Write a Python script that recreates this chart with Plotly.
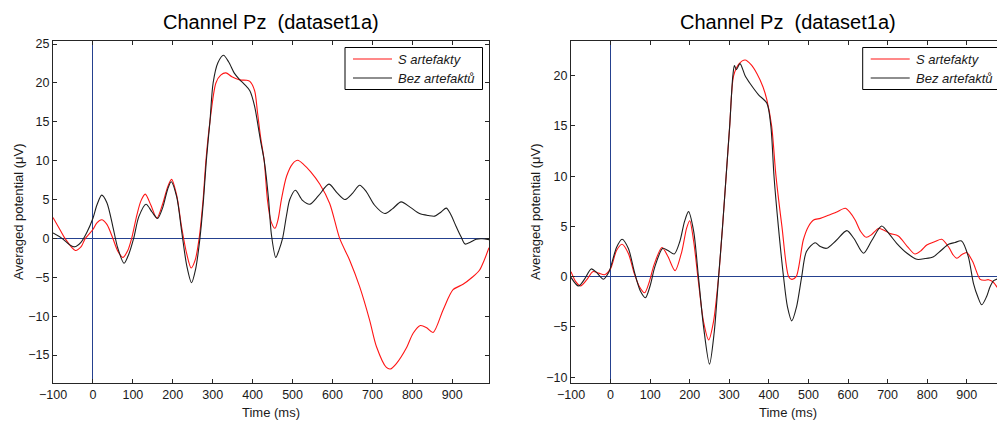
import plotly.graph_objects as go

# ---------------- data ----------------
TITLE = "Channel Pz  (dataset1a)"
X_LABEL = "Time (ms)"
Y_LABEL = "Averaged potential (μV)"
SERIES_NAMES = ["S artefakty", "Bez artefaktů"]

x_ticks = [-100, 0, 100, 200, 300, 400, 500, 600, 700, 800, 900]
left_y_ticks = [-15, -10, -5, 0, 5, 10, 15, 20, 25]
right_y_ticks = [-10, -5, 0, 5, 10, 15, 20]

# left panel, red (S artefakty)
left_red_t = [-100, -80, -70, -44, -30, -19, 0, 10, 22, 35, 50, 62, 75, 87, 97,
              110, 120, 131, 145, 160, 175, 187, 197, 210, 222, 235, 246, 256,
              266, 276, 283, 293, 308, 320, 333, 348, 368, 385, 393, 405, 412,
              420, 429, 437, 446, 456, 464, 472, 485, 500, 513, 528, 545, 568,
              593, 618, 643, 668, 693, 710, 735, 745, 760, 785, 802, 820, 836,
              852, 877, 902, 927, 950, 968, 980, 992]
left_red_v = [2.7, 0.9, 0.0, -1.55, -1.1, 0.0, 1.15, 2.0, 2.4, 1.8, 0.0, -1.6,
              -2.45, -1.6, 0.0, 3.0, 4.8, 5.7, 4.3, 2.6, 4.5, 6.6, 7.6, 5.5,
              1.5, -2.0, -3.8, -2.8, 0.0, 5.0, 10.0, 15.0, 20.0, 21.0, 21.3,
              20.8, 20.4, 20.35, 20.2, 19.0, 16.3, 13.0, 10.0, 5.0, 2.2, 1.3,
              2.5, 5.0, 8.0, 9.6, 10.05, 9.5, 8.6, 7.0, 4.5, 0.0, -2.8, -6.2,
              -10.5, -13.9, -16.6, -16.8, -16.1, -14.1, -12.2, -11.2, -11.5,
              -12.1, -9.2, -6.6, -5.9, -5.0, -4.1, -2.8, -1.2]

# left panel, black (Bez artefaktů)
left_black_t = [-100, -80, -57, -46, -30, -15, 0, 10, 22, 35, 50, 62, 78, 90,
                102, 115, 133, 148, 162, 175, 187, 196, 210, 222, 235, 247, 257,
                268, 277, 284, 293, 301, 313, 327, 340, 355, 368, 380, 393, 405,
                412, 420, 429, 440, 447, 458, 466, 475, 485, 493, 507, 525, 543,
                565, 591, 611, 631, 650, 668, 685, 705, 731, 750, 772, 795, 818,
                840, 856, 872, 885, 895, 910, 922, 932, 945, 960, 975, 992]
left_black_v = [0.7, 0.1, -0.86, -1.08, -0.5, 0.8, 2.6, 4.3, 5.57, 4.6, 1.5,
                -1.2, -3.2, -2.0, 0.0, 2.8, 4.4, 3.4, 2.57, 4.0, 6.3, 7.3, 5.3,
                1.0, -3.5, -5.7, -4.0, 0.0, 5.0, 10.0, 15.0, 20.0, 22.6, 23.56,
                22.7, 21.2, 20.4, 19.8, 19.0, 17.0, 15.0, 12.5, 10.0, 5.0, 0.5,
                -2.45, -1.5, 0.0, 3.0, 5.0, 6.2, 4.9, 4.4, 5.5, 6.98, 5.9, 5.0,
                5.8, 6.85, 6.0, 4.3, 3.2, 3.8, 4.7, 4.0, 3.2, 2.95, 2.87, 3.4,
                3.9, 3.2, 1.5, 0.2, -0.73, -0.5, -0.1, -0.05, -0.15]

# right panel, red (S artefakty)
right_red_t = [-100, -88, -76, -60, -45, -30, -15, 0, 15, 29, 45, 60, 73, 86,
               98, 110, 130, 145, 163, 180, 192, 200, 210, 222, 235, 248, 260,
               273, 283, 292, 301, 311, 325, 340, 355, 370, 385, 395, 407, 418,
               433, 450, 458, 469, 487, 500, 513, 530, 546, 570, 593, 605, 618,
               632, 646, 660, 677, 692, 706, 727, 750, 769, 785, 799, 820, 837,
               855, 865, 875, 888, 900, 915, 934, 945, 955, 966, 977]
right_red_v = [0.5, -0.5, -0.93, -0.3, 0.5, 0.35, 0.2, 0.8, 2.6, 3.22, 2.3,
               0.3, -1.0, -1.6, -0.5, 1.2, 2.9, 2.0, 0.6, 2.5, 4.8, 5.57, 3.5,
               -0.5, -4.5, -6.3, -4.5, 0.0, 5.0, 10.0, 15.0, 20.0, 21.2, 21.56,
               21.1, 20.2, 18.9, 17.6, 15.0, 10.0, 5.0, 0.0, -0.27, 0.0, 3.65,
               5.0, 5.64, 5.8, 6.04, 6.4, 6.8, 6.4, 5.64, 4.5, 3.92, 4.2, 4.8,
               4.6, 4.3, 4.05, 3.0, 2.26, 2.6, 3.15, 3.5, 3.72, 2.9, 2.2, 1.83,
               2.2, 2.4, 1.5, -0.27, -0.35, -0.3, -0.5, -1.06]

# right panel, black (Bez artefaktů)
right_black_t = [-100, -81, -65, -49, -35, -18, -5, 0, 15, 29, 45, 60, 75, 88,
                 100, 112, 132, 145, 161, 175, 187, 197, 210, 222, 235, 250, 262,
                 273, 283, 292, 301, 309, 313, 318, 327, 340, 353, 374, 395, 405,
                 413, 424, 437, 447, 458, 470, 483, 495, 517, 530, 546, 570, 597,
                 615, 639, 660, 685, 705, 723, 750, 774, 795, 816, 835, 854, 870,
                 887, 904, 917, 928, 938, 950, 959, 968, 977]
right_black_v = [-0.07, -0.93, -0.2, 0.77, 0.4, -0.26, 0.4, 0.9, 2.9, 3.72,
                 2.8, 0.5, -1.4, -2.09, -0.9, 1.0, 2.82, 2.6, 2.26, 3.5, 5.5,
                 6.47, 4.5, 0.0, -5.0, -8.7, -5.5, 0.0, 5.0, 10.0, 15.0, 20.0,
                 21.0, 20.6, 21.2, 20.0, 19.2, 18.1, 17.25, 15.0, 10.0, 5.0, 0.0,
                 -3.0, -4.4, -3.0, 0.0, 2.5, 3.38, 3.0, 2.82, 3.6, 4.58, 3.8,
                 2.33, 3.6, 5.04, 4.2, 3.32, 2.3, 1.73, 1.8, 1.99, 2.6, 3.22,
                 3.4, 3.55, 2.0, -0.66, -2.0, -2.8, -2.0, -1.0, -0.4, -0.23]

# ---------------- layout helpers ----------------
W, H = 997, 422
FONT = "Liberation Sans, Arial, sans-serif"
RED = "#ff1414"
BLACK = "#1e1e1e"
BLUE = "#25418f"
AXIS = "#262626"


def fx(p):
    return p / W


def fy(p):
    return 1 - p / H


fig = go.Figure()

panels = [
    dict(xa="x", ya="y", data=[(left_red_t, left_red_v), (left_black_t, left_black_v)]),
    dict(xa="x2", ya="y2", data=[(right_red_t, right_red_v), (right_black_t, right_black_v)]),
]
colors = [RED, BLACK]
for p in panels:
    for (t, v), c, name in zip(p["data"], colors, SERIES_NAMES):
        fig.add_trace(go.Scatter(
            x=t, y=v, mode="lines", name=name, showlegend=False,
            line=dict(color=c, width=1.1, shape="spline", smoothing=0.8),
            xaxis=p["xa"], yaxis=p["ya"], hoverinfo="skip"))

axis_common = dict(
    showgrid=False, zeroline=True, zerolinecolor=BLUE, zerolinewidth=1,
    showline=True, linecolor=AXIS, linewidth=1, mirror="ticks",
    ticks="inside", ticklen=4, tickcolor=AXIS, tickwidth=1,
    tickfont=dict(family=FONT, size=12.5, color="#1a1a1a"),
    automargin=False, fixedrange=True,
)

fig.update_layout(
    width=W, height=H,
    margin=dict(l=0, r=0, t=0, b=0),
    paper_bgcolor="white", plot_bgcolor="white",
    showlegend=False,
    xaxis=dict(domain=[fx(53), fx(489)], range=[-100, 992], tickvals=x_ticks,
               anchor="y", **axis_common),
    yaxis=dict(domain=[fy(383), fy(41)], range=[-18.6, 25.4], tickvals=left_y_ticks,
               anchor="x", **axis_common),
    xaxis2=dict(domain=[fx(571), 1.0], range=[-100, 976.5], tickvals=x_ticks,
                anchor="y2", **axis_common),
    yaxis2=dict(domain=[fy(383), fy(41)], range=[-10.58, 23.45], tickvals=right_y_ticks,
                anchor="x2", **{**axis_common, "mirror": False}),
)

annotations = []
shapes = []
for x_title, x_ylab, leg_x0 in [(271, 18, 345), (788, 535, 862.7)]:
    annotations.append(dict(text=TITLE, x=fx(x_title), y=fy(22), xref="paper", yref="paper",
                            showarrow=False, xanchor="center", yanchor="middle",
                            font=dict(family=FONT, size=20, color="black")))
    annotations.append(dict(text=X_LABEL, x=fx(x_title), y=fy(412), xref="paper", yref="paper",
                            showarrow=False, xanchor="center", yanchor="middle",
                            font=dict(family=FONT, size=13, color="#1a1a1a")))
    annotations.append(dict(text=Y_LABEL, x=fx(x_ylab), y=fy(212), xref="paper", yref="paper",
                            showarrow=False, xanchor="center", yanchor="middle", textangle=-90,
                            font=dict(family=FONT, size=13, color="#1a1a1a")))
    # legend box
    shapes.append(dict(type="rect", xref="paper", yref="paper",
                       x0=fx(leg_x0), x1=fx(leg_x0 + 137.5), y0=fy(89.5), y1=fy(47.5),
                       line=dict(color="black", width=1), fillcolor="white", layer="above"))
    for row_y, c, name in [(59, RED, SERIES_NAMES[0]), (78, BLACK, SERIES_NAMES[1])]:
        shapes.append(dict(type="line", xref="paper", yref="paper",
                           x0=fx(leg_x0 + 8), x1=fx(leg_x0 + 47), y0=fy(row_y), y1=fy(row_y),
                           line=dict(color=c, width=1.1), layer="above"))
        annotations.append(dict(text="<i>" + name + "</i>", x=fx(leg_x0 + 51), y=fy(row_y),
                                xref="paper", yref="paper", showarrow=False,
                                xanchor="left", yanchor="middle",
                                font=dict(family=FONT, size=13, color="#1a1a1a")))

fig.update_layout(annotations=annotations, shapes=shapes)
fig.write_html(
    "out.html",
    config={"displayModeBar": False, "staticPlot": True},
    post_script="document.body.style.margin='0';document.body.style.overflow='hidden';",
)
